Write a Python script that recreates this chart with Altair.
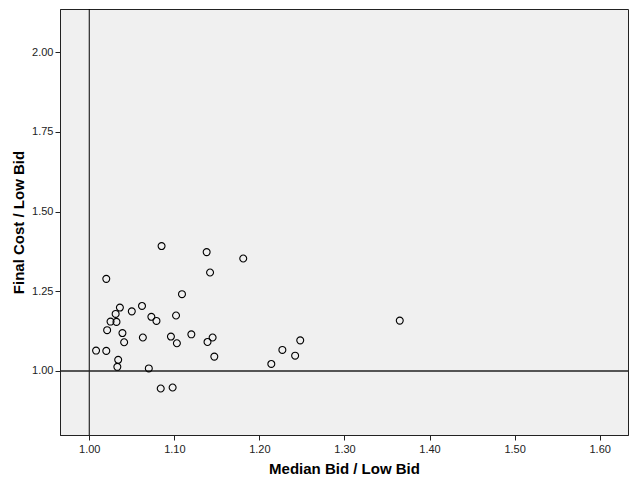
import altair as alt
import pandas as pd

median_bid = [1.085, 1.138, 1.181, 1.142, 1.020, 1.109, 1.036, 1.062, 1.050, 1.031,
              1.073, 1.102, 1.079, 1.025, 1.032, 1.021, 1.039, 1.041, 1.063, 1.096,
              1.103, 1.120, 1.139, 1.145, 1.147, 1.008, 1.020, 1.034, 1.033, 1.070,
              1.084, 1.098, 1.214, 1.227, 1.242, 1.248, 1.365]
final_cost = [1.392, 1.373, 1.353, 1.309, 1.289, 1.241, 1.199, 1.204, 1.187, 1.179,
              1.170, 1.174, 1.157, 1.155, 1.154, 1.128, 1.119, 1.090, 1.105, 1.108,
              1.087, 1.115, 1.091, 1.105, 1.045, 1.064, 1.063, 1.035, 1.013, 1.008,
              0.945, 0.948, 1.022, 1.066, 1.048, 1.096, 1.158]

x_ticks = [1.0, 1.1, 1.2, 1.3, 1.4, 1.5, 1.6]
y_ticks = [1.0, 1.25, 1.5, 1.75, 2.0]
x_ref = [1.0]
y_ref = [1.0]

df = pd.DataFrame({"x": median_bid, "y": final_cost})

xscale = alt.Scale(domain=[0.9656, 1.6333], nice=False, zero=False)
yscale = alt.Scale(domain=[0.799, 2.136], nice=False, zero=False)

points = alt.Chart(df).mark_point(
    shape="circle", filled=False, color="black", size=48, strokeWidth=1.1, opacity=1
).encode(
    x=alt.X("x:Q", scale=xscale, title="Median Bid / Low Bid",
            axis=alt.Axis(values=x_ticks, format=".2f", grid=False)),
    y=alt.Y("y:Q", scale=yscale, title="Final Cost / Low Bid",
            axis=alt.Axis(values=y_ticks, format=".2f", grid=False)),
)

vline = alt.Chart(pd.DataFrame({"x": x_ref})).mark_rule(color="black", strokeWidth=1).encode(
    x=alt.X("x:Q", scale=xscale)
)
hline = alt.Chart(pd.DataFrame({"y": y_ref})).mark_rule(color="#222222", strokeWidth=1.6).encode(
    y=alt.Y("y:Q", scale=yscale)
)

chart = alt.layer(vline, hline, points).properties(
    width=621, height=468,
    autosize=alt.AutoSizeParams(type="fit", contains="padding"),
    padding={"left": 3, "top": 0, "right": 0, "bottom": 0},
).configure_view(
    fill="#F0F0F0", stroke="#222222", strokeWidth=1
).configure_axis(
    labelFont="Liberation Sans", labelFontSize=11, labelColor="#222222",
    titleFont="Liberation Sans", titleFontSize=15, titleFontWeight="bold", titleColor="black",
    domainColor="#222222", tickColor="#222222", tickSize=5, labelPadding=2,
).configure_axisX(titlePadding=7, labelPadding=3
).configure_axisY(titlePadding=5)

chart.save("out.html", embed_options={"renderer": "svg", "actions": False})
